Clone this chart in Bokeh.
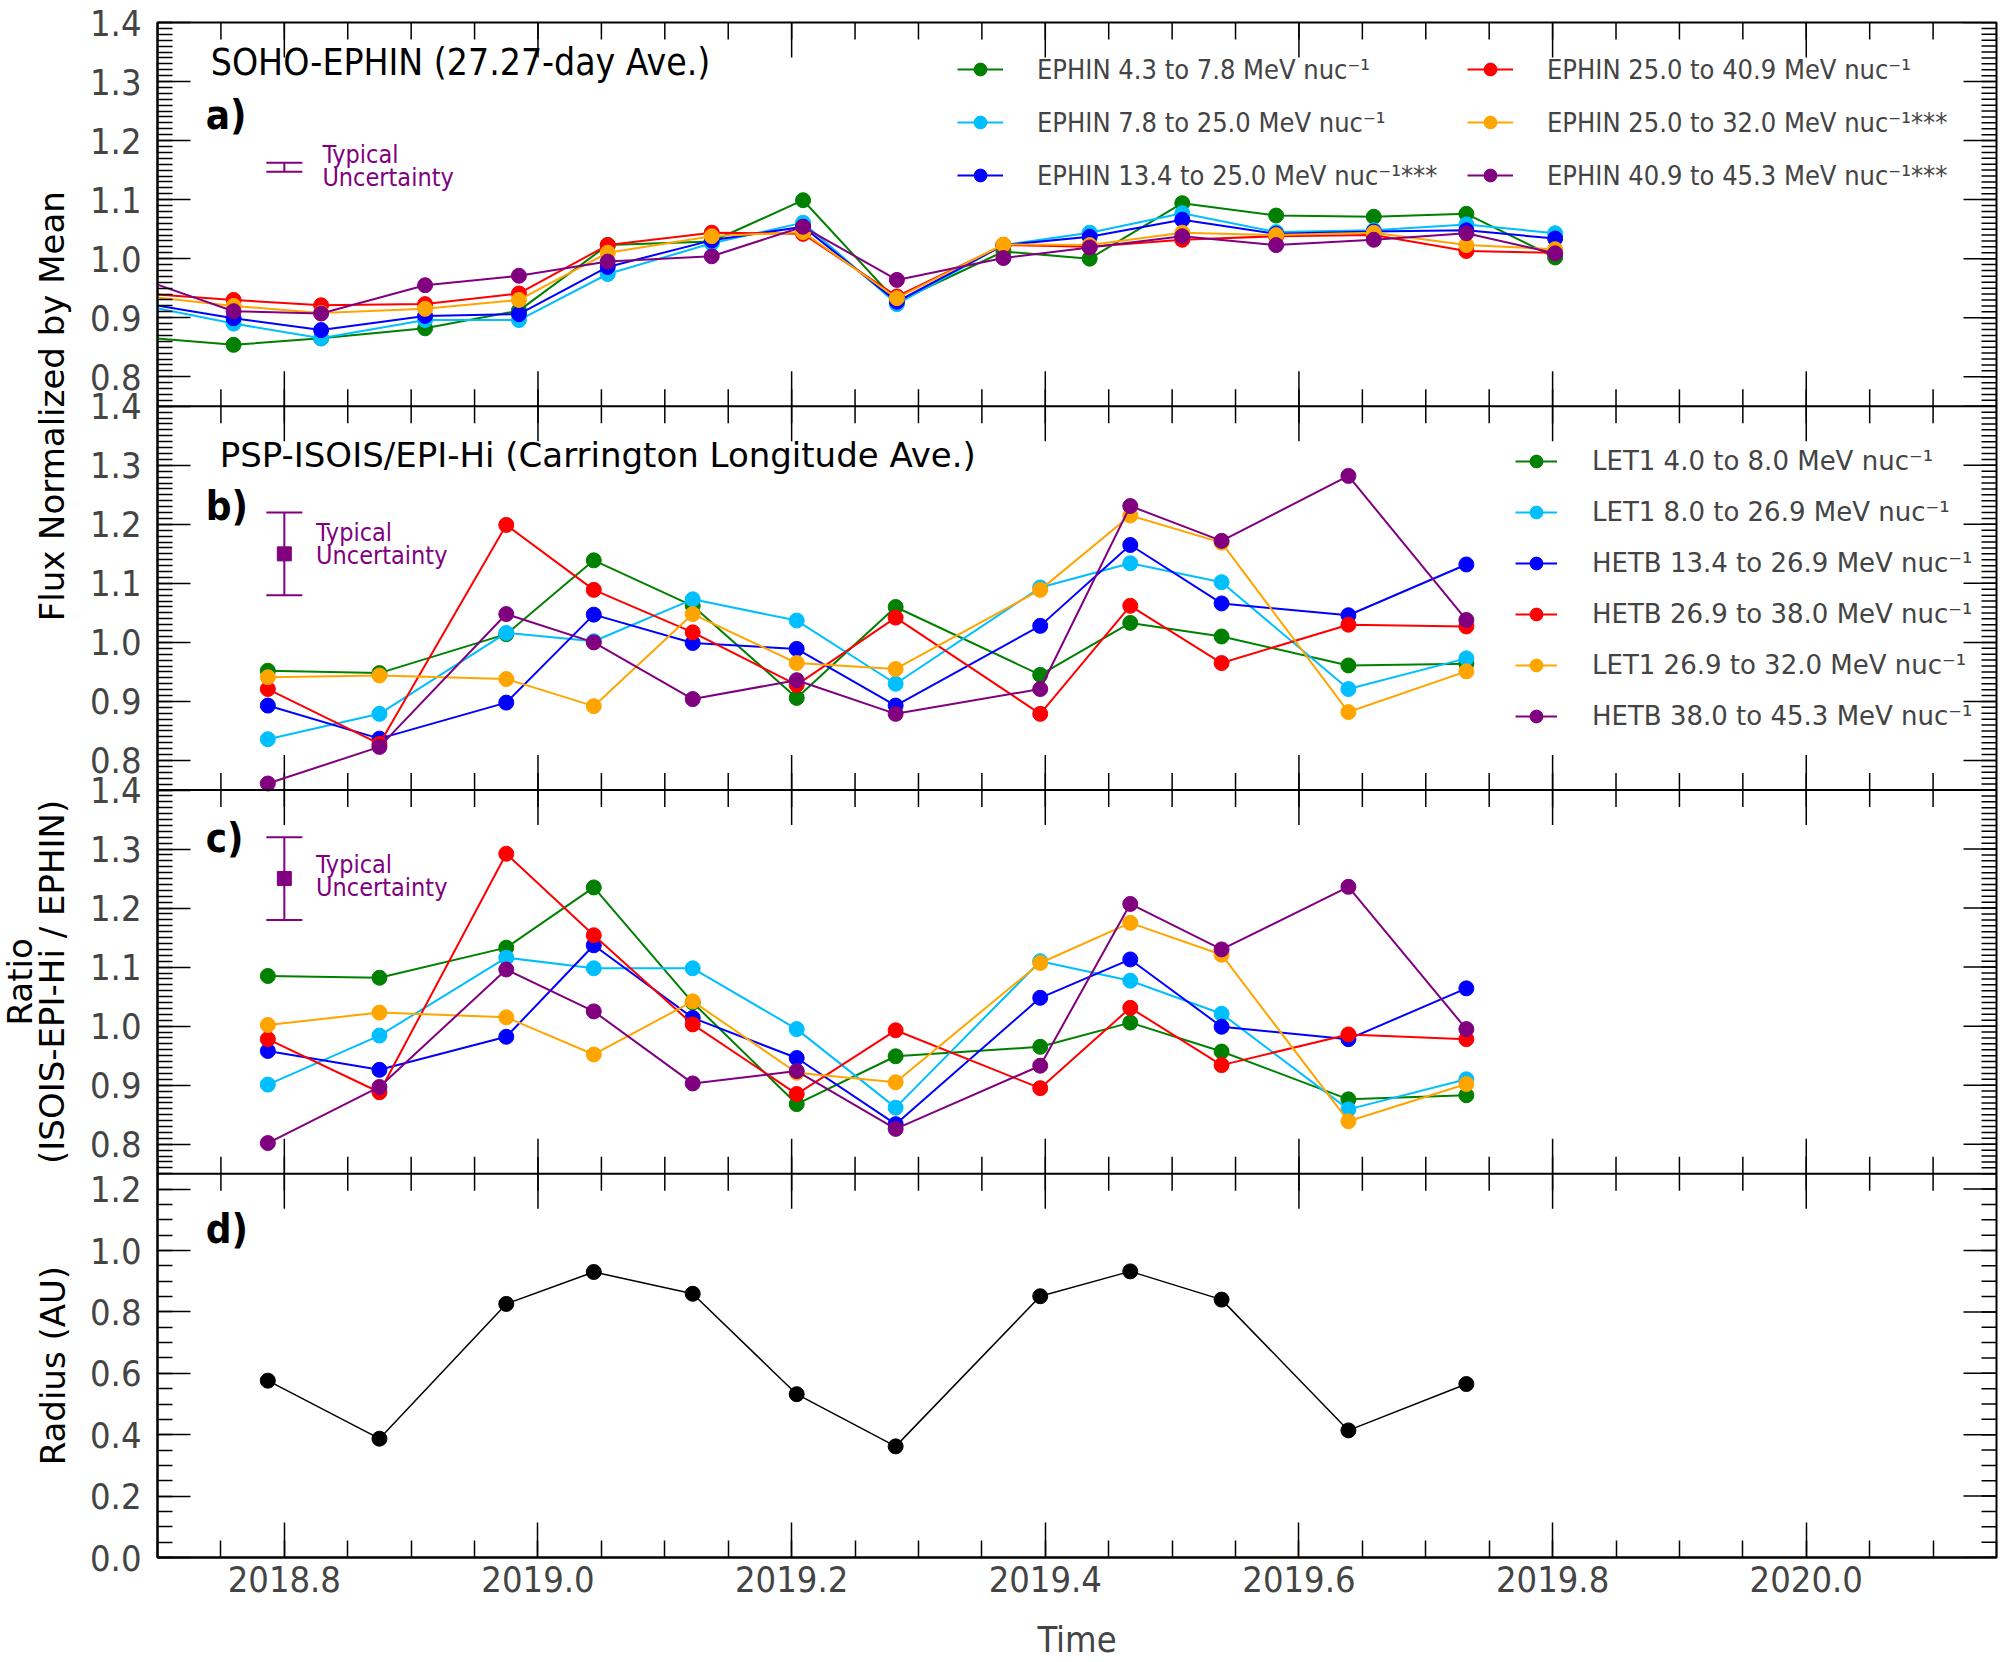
import numpy as np
from math import pi

from bokeh.core.properties import value
from bokeh.embed import file_html
from bokeh.layouts import row
from bokeh.models import (CustomJSTickFormatter, FixedTicker, Legend, LegendItem,
                          LinearAxis, PrintfTickFormatter, Range1d, Span)
from bokeh.plotting import figure
from bokeh.resources import INLINE

# ---------------- data ----------------
# a) SOHO-EPHIN, 27.27-day averages (first point lies just left of the plot)
ephin_time = [2018.688, 2018.760, 2018.829, 2018.911, 2018.985, 2019.055, 2019.137, 2019.209,
              2019.283, 2019.367, 2019.435, 2019.508, 2019.582, 2019.659, 2019.732, 2019.802]
ephin_4_8 = [0.867, 0.854, 0.865, 0.882, 0.912, 1.023, 1.029, 1.099,
             0.927, 1.012, 1.000, 1.094, 1.073, 1.071, 1.076, 1.002]
ephin_8_25 = [0.921, 0.890, 0.865, 0.896, 0.896, 0.974, 1.026, 1.061,
              0.923, 1.023, 1.044, 1.077, 1.045, 1.048, 1.058, 1.043]
ephin_13_25 = [0.925, 0.899, 0.879, 0.903, 0.906, 0.986, 1.031, 1.054,
               0.927, 1.023, 1.037, 1.066, 1.042, 1.046, 1.048, 1.034]
ephin_25_41 = [0.941, 0.930, 0.921, 0.923, 0.941, 1.023, 1.044, 1.042,
               0.936, 1.023, 1.020, 1.032, 1.038, 1.040, 1.013, 1.010]
ephin_25_32 = [0.937, 0.920, 0.908, 0.915, 0.930, 1.010, 1.038, 1.045,
               0.933, 1.024, 1.023, 1.044, 1.040, 1.044, 1.023, 1.016]
ephin_41_45 = [0.965, 0.911, 0.907, 0.955, 0.971, 0.995, 1.004, 1.054,
               0.964, 1.001, 1.019, 1.038, 1.023, 1.032, 1.043, 1.009]

ephin_labels = ["EPHIN 4.3 to 7.8 MeV nuc\u207b\u00b9",
                "EPHIN 7.8 to 25.0 MeV nuc\u207b\u00b9",
                "EPHIN 13.4 to 25.0 MeV nuc\u207b\u00b9***",
                "EPHIN 25.0 to 40.9 MeV nuc\u207b\u00b9",
                "EPHIN 25.0 to 32.0 MeV nuc\u207b\u00b9***",
                "EPHIN 40.9 to 45.3 MeV nuc\u207b\u00b9***"]

# b) PSP-ISOIS/EPI-Hi, Carrington longitude averages
psp_time = [2018.787, 2018.875, 2018.975, 2019.044, 2019.122, 2019.204,
            2019.282, 2019.396, 2019.467, 2019.539, 2019.639, 2019.732]
let1_4_8 = [0.952, 0.948, 1.014, 1.139, 1.062, 0.906, 1.060, 0.945, 1.033, 1.010, 0.961, 0.964]
let1_8_27 = [0.836, 0.879, 1.016, 1.002, 1.073, 1.037, 0.930, 1.093, 1.134, 1.102, 0.921, 0.973]
hetb_13_27 = [0.893, 0.837, 0.898, 1.047, 0.999, 0.989, 0.893, 1.028, 1.165, 1.066, 1.046, 1.132]
hetb_27_38 = [0.921, 0.828, 1.199, 1.089, 1.017, 0.928, 1.042, 0.879, 1.062, 0.965, 1.030, 1.027]
let1_27_32 = [0.941, 0.944, 0.938, 0.892, 1.048, 0.965, 0.955, 1.089, 1.215, 1.169, 0.882, 0.951]
hetb_38_45 = [0.761, 0.823, 1.048, 1.000, 0.904, 0.936, 0.879, 0.921, 1.231, 1.172, 1.282, 1.038]

psp_labels = ["LET1 4.0 to 8.0 MeV nuc\u207b\u00b9",
              "LET1 8.0 to 26.9 MeV nuc\u207b\u00b9",
              "HETB 13.4 to 26.9 MeV nuc\u207b\u00b9",
              "HETB 26.9 to 38.0 MeV nuc\u207b\u00b9",
              "LET1 26.9 to 32.0 MeV nuc\u207b\u00b9",
              "HETB 38.0 to 45.3 MeV nuc\u207b\u00b9"]

# c) ratio ISOIS-EPI-Hi / EPHIN
ratio_4_8 = [1.085, 1.082, 1.133, 1.235, 1.040, 0.868, 0.949, 0.965, 1.006, 0.957, 0.876, 0.883]
ratio_8_27 = [0.901, 0.984, 1.116, 1.098, 1.098, 0.995, 0.862, 1.110, 1.077, 1.021, 0.859, 0.910]
ratio_13_27 = [0.958, 0.926, 0.982, 1.137, 1.014, 0.946, 0.834, 1.048, 1.113, 0.999, 0.978, 1.064]
ratio_27_38 = [0.978, 0.888, 1.292, 1.154, 1.003, 0.885, 0.993, 0.895, 1.031, 0.934, 0.986, 0.978]
ratio_27_32 = [1.002, 1.023, 1.015, 0.952, 1.042, 0.921, 0.905, 1.107, 1.175, 1.121, 0.839, 0.902]
ratio_38_45 = [0.802, 0.897, 1.096, 1.025, 0.903, 0.924, 0.826, 0.933, 1.207, 1.130, 1.236, 0.995]

# d) PSP heliocentric radius
radius_au = [0.576, 0.387, 0.826, 0.930, 0.859, 0.532, 0.362, 0.851, 0.932, 0.840, 0.414, 0.565]

# typical uncertainty markers (panels a, b, c)
unc_time = 2018.80
unc_center = [1.155, 1.15, 1.25]
unc_half = [0.0076, 0.07, 0.07]

colors = ["green", "deepskyblue", "blue", "red", "orange", "purple"]
unc_color = "purple"

COND_NAME = "DejaVu Sans Condensed"
SANS_NAME = "DejaVu Sans"
COND = value(COND_NAME)
SANS = value(SANS_NAME)

# panel bands stacked in one frame: name -> (low, high, slot from bottom)
bands = {"a": (0.75, 1.4, 3), "b": (0.75, 1.4, 2), "c": (0.75, 1.4, 1), "d": (0.0, 1.25, 0)}
band_major = {"a": np.round(np.arange(0.8, 1.401, 0.1), 2),
              "d": np.round(np.arange(0.0, 1.201, 0.2), 2)}
band_minor = {"a": np.round(np.arange(0.75, 1.401, 0.01), 2),
              "d": np.round(np.arange(0.0, 1.251, 0.05), 2)}
for k in ("b", "c"):
    band_major[k] = band_major["a"]
    band_minor[k] = band_minor["a"]


def stack_pos(name, vals):
    lo, hi, slot = bands[name]
    return [round(slot + (v - lo) / (hi - lo), 6) for v in vals]


X0, X1 = 2018.7, 2020.15
x_major = [float(v) for v in np.round(np.arange(2018.8, 2020.01, 0.2), 2)]
x_minor = [float(v) for v in np.round(np.arange(2018.7, 2020.151, 0.05), 2)]

TOP, FRAME_H, BOTTOM = 22, 1536, 104
p = figure(width=1915, height=TOP + FRAME_H + BOTTOM, x_range=Range1d(X0, X1),
           y_range=Range1d(0, 4), output_backend="svg", toolbar_location=None,
           x_axis_location=None, y_axis_location=None, min_border_left=74,
           min_border_right=2, min_border_top=TOP, min_border_bottom=BOTTOM)
p.outline_line_color = "black"
p.outline_line_width = 2
p.background_fill_color = "white"
p.grid.visible = False

for name, (lo, hi, slot) in bands.items():
    span = hi - lo
    p.extra_y_ranges[name] = Range1d(lo - slot * span, hi + (3 - slot) * span)

# bottom axis (labels) and left axis (labels); other edges get plain tick marks
xt = FixedTicker(ticks=x_major, minor_ticks=x_minor)
xb = LinearAxis(ticker=xt, formatter=PrintfTickFormatter(format="%.1f"), axis_label="Time")
xb.major_tick_in = 35
xb.major_tick_out = 0
xb.minor_tick_in = 17
xb.minor_tick_out = 0
xb.axis_line_width = 2
xb.major_tick_line_width = 1.5
xb.minor_tick_line_width = 1.5
xb.major_label_text_font = COND_NAME
xb.major_label_text_font_size = "36px"
xb.major_label_standoff = 8
xb.axis_label_text_font = COND_NAME
xb.axis_label_text_font_size = "36px"
xb.axis_label_text_font_style = "normal"
xb.axis_label_standoff = 24
p.add_layout(xb, "below")

y_major, y_minor = [], []
for name in bands:
    y_major += stack_pos(name, band_major[name])
    y_minor += stack_pos(name, band_minor[name])
y_major = sorted(set(y_major))
y_minor = sorted(set(y_minor))
yt = FixedTicker(ticks=y_major, minor_ticks=y_minor)
yfmt = CustomJSTickFormatter(args=dict(lo=[0.0, 0.75, 0.75, 0.75], hi=[1.25, 1.4, 1.4, 1.4]),
                             code="""
const k = Math.max(0, Math.ceil(tick - 1e-6) - 1);
return (lo[k] + (tick - k) * (hi[k] - lo[k])).toFixed(1);
""")
yl = LinearAxis(ticker=yt, formatter=yfmt)
yl.major_tick_in = 33
yl.major_tick_out = 0
yl.minor_tick_in = 15
yl.minor_tick_out = 0
yl.axis_line_width = 2
yl.major_tick_line_width = 1.5
yl.minor_tick_line_width = 1.5
yl.major_label_text_font = COND_NAME
yl.major_label_text_font_size = "36px"
yl.major_label_standoff = 16
p.add_layout(yl, "left")

tick_kw = dict(length_units="screen", line_color="black", line_width=1.5)
# right-edge ticks
p.ray(x=X1, y=y_major, length=33, angle=pi, **tick_kw)
p.ray(x=X1, y=y_minor, length=15, angle=pi, **tick_kw)
# top edge ticks and panel separators with inward ticks on both sides
p.ray(x=x_major, y=4, length=35, angle=-pi / 2, **tick_kw)
p.ray(x=x_minor, y=4, length=17, angle=-pi / 2, **tick_kw)
for b in (1, 2, 3):
    p.add_layout(Span(location=b, dimension="width", line_color="black", line_width=2))
    for ang in (pi / 2, -pi / 2):
        p.ray(x=x_major, y=b, length=35, angle=ang, **tick_kw)
        p.ray(x=x_minor, y=b, length=17, angle=ang, **tick_kw)


def draw_series(band, xs, ys, color, width=2):
    ln = p.line(xs, ys, y_range_name=band, line_color=color, line_width=width)
    sc = p.scatter(xs, ys, y_range_name=band, size=15, fill_color=color, line_color=color)
    return ln, sc


ephin_series = [ephin_4_8, ephin_8_25, ephin_13_25, ephin_25_41, ephin_25_32, ephin_41_45]
psp_series = [let1_4_8, let1_8_27, hetb_13_27, hetb_27_38, let1_27_32, hetb_38_45]
ratio_series = [ratio_4_8, ratio_8_27, ratio_13_27, ratio_27_38, ratio_27_32, ratio_38_45]

ephin_items = []
for ys, c, lab in zip(ephin_series, colors, ephin_labels):
    ephin_items.append(LegendItem(label=lab, renderers=list(draw_series("a", ephin_time, ys, c))))
psp_items = []
for ys, c, lab in zip(psp_series, colors, psp_labels):
    psp_items.append(LegendItem(label=lab, renderers=list(draw_series("b", psp_time, ys, c))))
for ys, c in zip(ratio_series, colors):
    draw_series("c", psp_time, ys, c)
draw_series("d", psp_time, radius_au, "black", width=1.5)


def make_legend(items, loc, font, size, glyph_w, standoff, spacing):
    leg = Legend(items=items, location=loc, orientation="vertical")
    leg.border_line_color = None
    leg.background_fill_alpha = 0
    leg.padding = 0
    leg.margin = 0
    leg.spacing = spacing
    leg.glyph_width = glyph_w
    leg.glyph_height = 32
    leg.label_height = 32
    leg.label_standoff = standoff
    leg.label_text_font = font
    leg.label_text_font_size = size
    leg.label_text_baseline = "middle"
    p.add_layout(leg)


make_legend(ephin_items[:3], (800, FRAME_H - 170), COND_NAME, "27px", 46, 34, 21)
make_legend(ephin_items[3:], (1310, FRAME_H - 170), COND_NAME, "27px", 46, 34, 21)
make_legend(psp_items, (1358, FRAME_H - 711), SANS_NAME, "26px", 42, 35, 19)

# panel titles and letters
p.text(x=[2018.742], y=[1.332], text=["SOHO-EPHIN (27.27-day Ave.)"], y_range_name="a",
       text_font=COND, text_font_size="37px", text_baseline="middle", text_color="black")
p.text(x=[2018.749], y=[1.317], text=["PSP-ISOIS/EPI-Hi (Carrington Longitude Ave.)"],
       y_range_name="b", text_font=SANS, text_font_size="34px", text_baseline="middle",
       text_color="black")
for band, yv, letter in (("a", 1.244, "a)"), ("b", 1.231, "b)"), ("c", 1.319, "c)"), ("d", 1.071, "d)")):
    p.text(x=[2018.738], y=[yv], text=[letter], y_range_name=band, text_font=COND,
           text_font_size="40px", text_font_style="bold", text_baseline="middle",
           text_color="black")

# typical uncertainty markers
unc_text_y = {"a": (1.177, 1.138), "b": (1.187, 1.148), "c": (1.273, 1.235)}
for band, cy, eh in zip(("a", "b", "c"), unc_center, unc_half):
    p.segment(x0=[unc_time], y0=[cy - eh], x1=[unc_time], y1=[cy + eh], y_range_name=band,
              line_color=unc_color, line_width=2)
    p.scatter(x=[unc_time, unc_time], y=[cy - eh, cy + eh], y_range_name=band, marker="dash",
              size=36, line_color=unc_color, line_width=2)
    if band != "a":
        p.scatter(x=[unc_time], y=[cy], y_range_name=band, marker="square", size=14,
                  fill_color=unc_color, line_color=unc_color)
    tx = 2018.830 if band == "a" else 2018.825
    p.text(x=[tx, tx], y=list(unc_text_y[band]), text=["Typical", "Uncertainty"],
           y_range_name=band, text_font=COND, text_font_size="25px",
           text_baseline="middle", text_color=unc_color)

# y-axis titles in a narrow strip to the left
lab = figure(width=83, height=TOP + FRAME_H + BOTTOM, x_range=Range1d(0, 83),
             y_range=Range1d(0, 4), output_backend="svg", toolbar_location=None,
             x_axis_location=None, y_axis_location=None, min_border_left=0,
             min_border_right=0, min_border_top=TOP, min_border_bottom=BOTTOM)
lab.outline_line_color = None
lab.grid.visible = False
lab.text(x=[51, 19, 51, 52], y=[3.0, 1.5, 1.5, 0.5],
         text=["Flux Normalized by Mean", "Ratio", "(ISOIS-EPI-Hi / EPHIN)", "Radius (AU)"],
         angle=pi / 2, text_align="center", text_baseline="middle", text_font=SANS,
         text_font_size="34px", text_color="black")

layout = row(lab, p)
open("out.html", "w").write(file_html(layout, INLINE))
